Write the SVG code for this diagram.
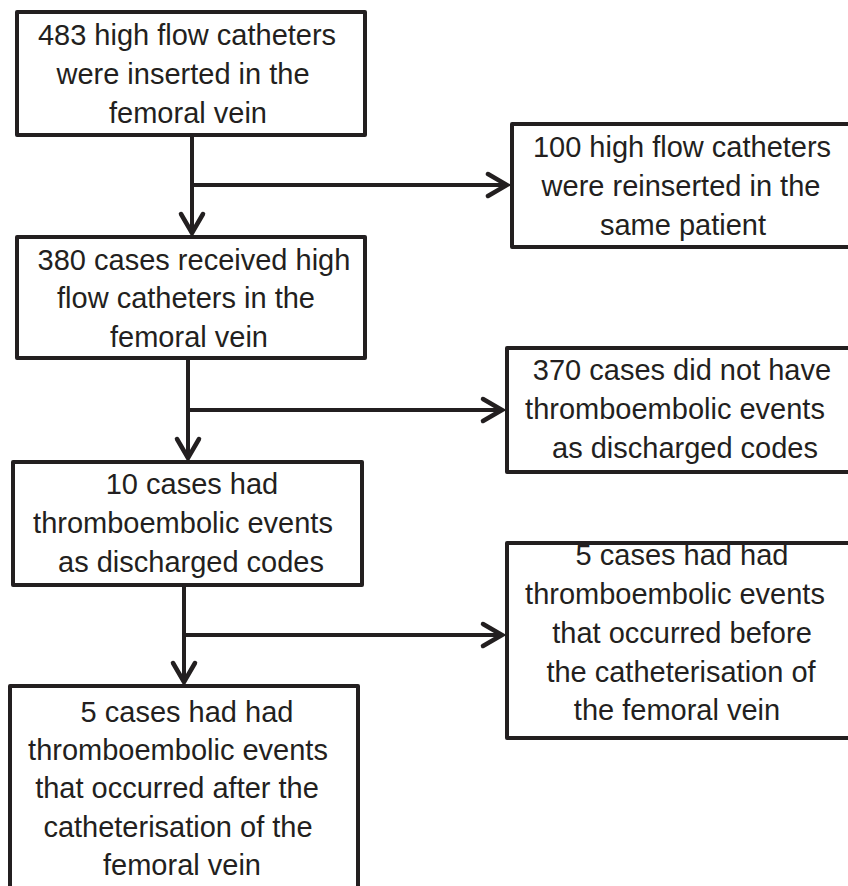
<svg xmlns="http://www.w3.org/2000/svg" width="848" height="886" viewBox="0 0 848 886">
<style>
.box{fill:#fff;stroke:#231f20;stroke-width:4;stroke-linejoin:round}
.t{font-family:"Liberation Sans",Arial,Helvetica,sans-serif;font-size:29px;fill:#231f20;text-anchor:middle}
.c{fill:none;stroke:#231f20;stroke-width:4;marker-end:url(#chev)}
</style>
<defs>
<marker id="chev" markerUnits="userSpaceOnUse" markerWidth="30" markerHeight="30" viewBox="-25 -15 30 30" refX="0" refY="0" orient="auto" overflow="visible">
<path d="M-19,-11 L0,0 L-19,11" fill="none" stroke="#231f20" stroke-width="4.5" stroke-linecap="round" stroke-linejoin="miter"/>
</marker>
</defs>
<rect width="848" height="886" fill="#fff"/>
<g id="connectors">
<path class="c" d="M192,135 V233"/>
<path class="c" d="M192,185 H507"/>
<path class="c" d="M188,358 V458"/>
<path class="c" d="M188,410 H502"/>
<path class="c" d="M184,585 V682"/>
<path class="c" d="M184,635 H502"/>
</g>
<g id="n1">
<rect class="box" x="17" y="12" width="348" height="123"/>
<text class="t"><tspan x="187" y="45">483 high flow catheters</tspan><tspan x="183" y="84">were inserted in the</tspan><tspan x="188" y="123">femoral vein</tspan></text>
</g>
<g id="n2">
<rect class="box" x="512" y="124" width="345" height="123"/>
<text class="t"><tspan x="682" y="157">100 high flow catheters</tspan><tspan x="681" y="196">were reinserted in the</tspan><tspan x="683" y="235">same patient</tspan></text>
</g>
<g id="n3">
<rect class="box" x="17" y="237" width="348" height="121"/>
<text class="t"><tspan x="194" y="270">380 cases received high</tspan><tspan x="186" y="308">flow catheters in the</tspan><tspan x="189" y="347">femoral vein</tspan></text>
</g>
<g id="n4">
<rect class="box" x="507" y="348" width="350" height="124"/>
<text class="t"><tspan x="682" y="380">370 cases did not have</tspan><tspan x="675" y="419">thromboembolic events</tspan><tspan x="685" y="458">as discharged codes</tspan></text>
</g>
<g id="n5">
<rect class="box" x="13" y="462" width="349" height="123"/>
<text class="t"><tspan x="192" y="494">10 cases had</tspan><tspan x="183" y="533">thromboembolic events</tspan><tspan x="191" y="572">as discharged codes</tspan></text>
</g>
<g id="n6">
<rect class="box" x="507" y="543" width="350" height="195"/>
<text class="t"><tspan x="682" y="565">5 cases had had</tspan><tspan x="675" y="604">thromboembolic events</tspan><tspan x="682" y="643">that occurred before</tspan><tspan x="681" y="682">the catheterisation of</tspan><tspan x="677" y="720">the femoral vein</tspan></text>
</g>
<g id="n7">
<rect class="box" x="10" y="686" width="348" height="220"/>
<text class="t"><tspan x="187" y="722">5 cases had had</tspan><tspan x="178" y="760">thromboembolic events</tspan><tspan x="177" y="798">that occurred after the</tspan><tspan x="178" y="837">catheterisation of the</tspan><tspan x="182" y="875">femoral vein</tspan></text>
</g>
</svg>
